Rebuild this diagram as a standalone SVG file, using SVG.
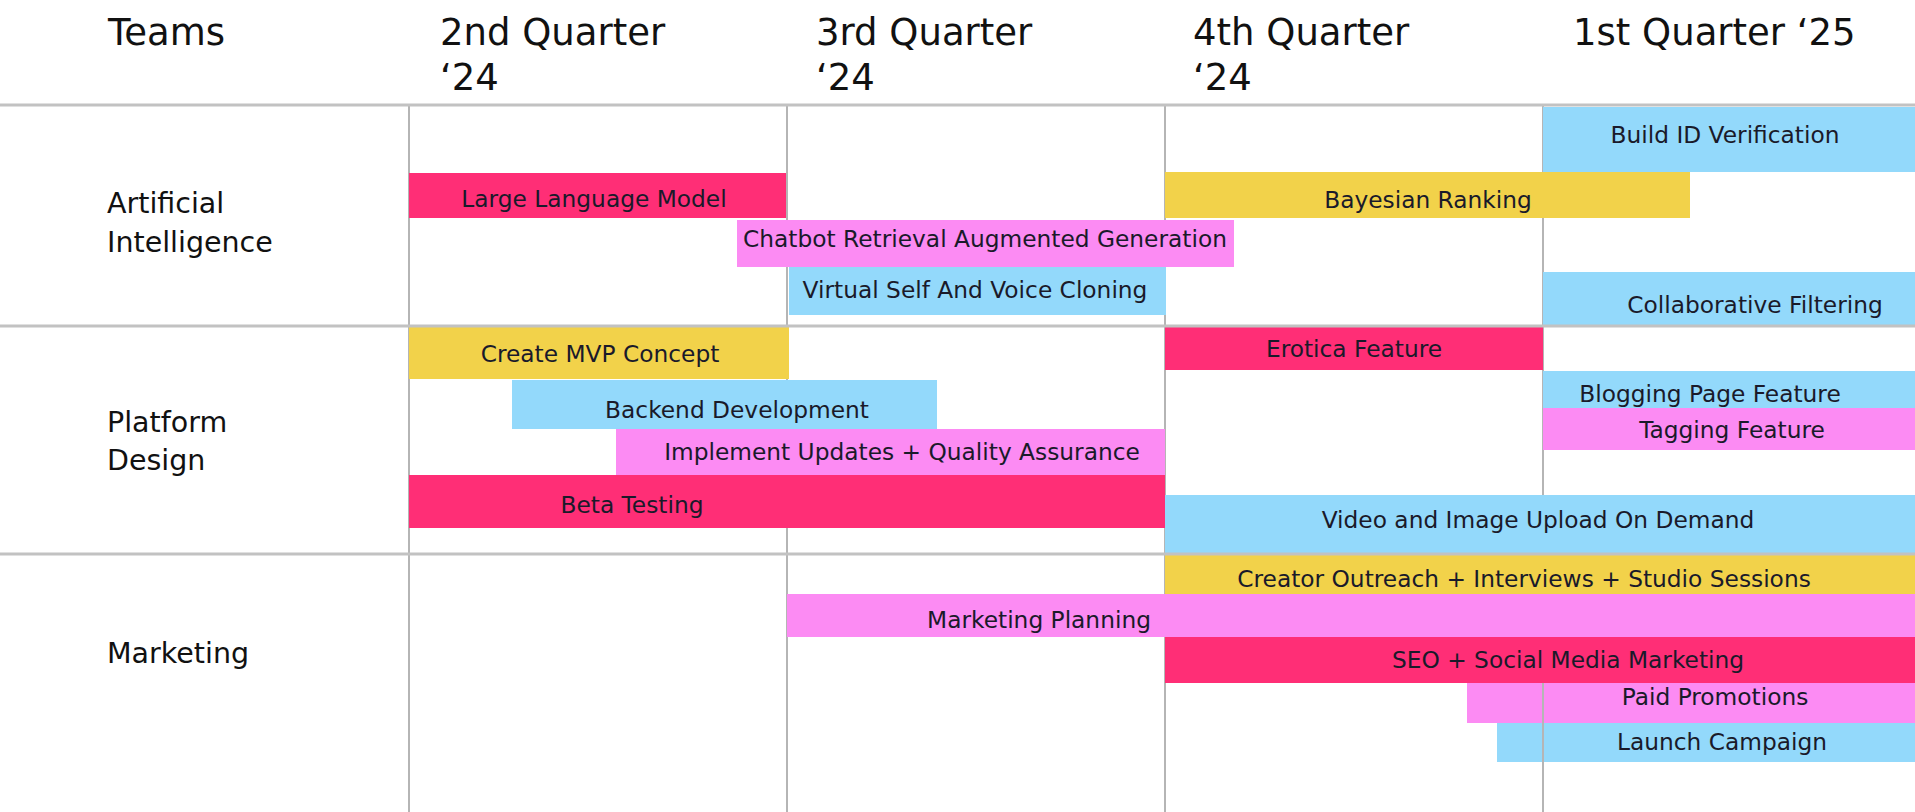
<svg xmlns="http://www.w3.org/2000/svg" width="1915" height="812" viewBox="0 0 1915 812">
<style>
.hdr{font-family:"DejaVu Sans",sans-serif;font-size:37px;fill:#111}
.lbl{font-family:"DejaVu Sans",sans-serif;font-size:28.5px;fill:#111}
.bt{font-family:"DejaVu Sans",sans-serif;font-size:23.3px;fill:#1a1a2a;text-anchor:middle}
.red{fill:#FF2E76}.yel{fill:#F2D24A}.blu{fill:#93D9FB}.pnk{fill:#FC8BF3}
.vl{stroke:#b5b5b5;stroke-width:2}
.hl{stroke:#c2c2c2;stroke-width:3}
</style>
<rect width="1915" height="812" fill="#ffffff"/>
<g id="grid">
<line class="vl" x1="409" y1="105" x2="409" y2="812"/>
<line class="vl" x1="787" y1="105" x2="787" y2="812"/>
<line class="vl" x1="1165" y1="105" x2="1165" y2="812"/>
<line class="vl" x1="1543" y1="105" x2="1543" y2="812"/>
</g>
<g id="header">
<text class="hdr" x="108" y="45">Teams</text>
<text class="hdr" x="440" y="45">2nd Quarter</text>
<text class="hdr" x="440" y="90">‘24</text>
<text class="hdr" x="816" y="45">3rd Quarter</text>
<text class="hdr" x="816" y="90">‘24</text>
<text class="hdr" x="1193" y="45">4th Quarter</text>
<text class="hdr" x="1193" y="90">‘24</text>
<text class="hdr" x="1573" y="45">1st Quarter ‘25</text>
</g>
<g id="team-ai"><text class="lbl" x="107" y="213">Artificial</text><text class="lbl" x="107" y="252">Intelligence</text></g>
<g id="team-platform"><text class="lbl" x="107" y="432">Platform</text><text class="lbl" x="107" y="470">Design</text></g>
<g id="team-marketing"><text class="lbl" x="107" y="663">Marketing</text></g>

<g id="build-id"><rect class="blu" x="1543" y="107" width="372" height="65"/><text class="bt" x="1725" y="143">Build ID Verification</text></g>
<g id="llm"><rect class="red" x="409" y="173" width="377" height="45"/><text class="bt" x="594" y="207">Large Language Model</text></g>
<g id="bayesian"><rect class="yel" x="1165" y="172" width="525" height="46"/><text class="bt" x="1428" y="208">Bayesian Ranking</text></g>
<g id="chatbot"><rect class="pnk" x="737" y="220" width="497" height="47"/><text class="bt" x="985" y="247">Chatbot Retrieval Augmented Generation</text></g>
<g id="virtual-self"><rect class="blu" x="789" y="267" width="377" height="48"/><text class="bt" x="975" y="298">Virtual Self And Voice Cloning</text></g>
<g id="collab"><rect class="blu" x="1543" y="272" width="372" height="54"/><text class="bt" x="1755" y="313">Collaborative Filtering</text></g>

<g id="mvp"><rect class="yel" x="409" y="327" width="380" height="52"/><text class="bt" x="600" y="362">Create MVP Concept</text></g>
<g id="backend"><rect class="blu" x="512" y="380" width="425" height="49"/><text class="bt" x="737" y="418">Backend Development</text></g>
<g id="implement"><rect class="pnk" x="616" y="429" width="549" height="46"/><text class="bt" x="902" y="460">Implement Updates + Quality Assurance</text></g>
<g id="beta"><rect class="red" x="409" y="475" width="756" height="53"/><text class="bt" x="632" y="513">Beta Testing</text></g>
<g id="erotica"><rect class="red" x="1165" y="327" width="378" height="43"/><text class="bt" x="1354" y="357">Erotica Feature</text></g>
<g id="blogging"><rect class="blu" x="1543" y="371" width="372" height="37"/><text class="bt" x="1710" y="402">Blogging Page Feature</text></g>
<g id="tagging"><rect class="pnk" x="1543" y="408" width="372" height="42"/><text class="bt" x="1732" y="438">Tagging Feature</text></g>
<g id="video"><rect class="blu" x="1165" y="495" width="750" height="58"/><text class="bt" x="1538" y="528">Video and Image Upload On Demand</text></g>

<g id="creator"><rect class="yel" x="1165" y="555" width="750" height="39"/><text class="bt" x="1524" y="587">Creator Outreach + Interviews + Studio Sessions</text></g>
<g id="mkt-planning"><rect class="pnk" x="787" y="594" width="1128" height="43"/><text class="bt" x="1039" y="628">Marketing Planning</text></g>
<g id="seo"><rect class="red" x="1165" y="637" width="750" height="46"/><text class="bt" x="1568" y="668">SEO + Social Media Marketing</text></g>
<g id="paid"><rect class="pnk" x="1467" y="683" width="448" height="40"/><text class="bt" x="1715" y="705">Paid Promotions</text></g>
<g id="launch"><rect class="blu" x="1497" y="723" width="418" height="39"/><text class="bt" x="1722" y="750">Launch Campaign</text></g>

<g id="grid-overlay">
<line class="vl" x1="1543" y1="683" x2="1543" y2="762"/>
<line class="hl" x1="0" y1="105" x2="1915" y2="105"/>
<line class="hl" x1="0" y1="326" x2="1915" y2="326"/>
<line class="hl" x1="0" y1="554" x2="1915" y2="554"/>
</g>
</svg>
